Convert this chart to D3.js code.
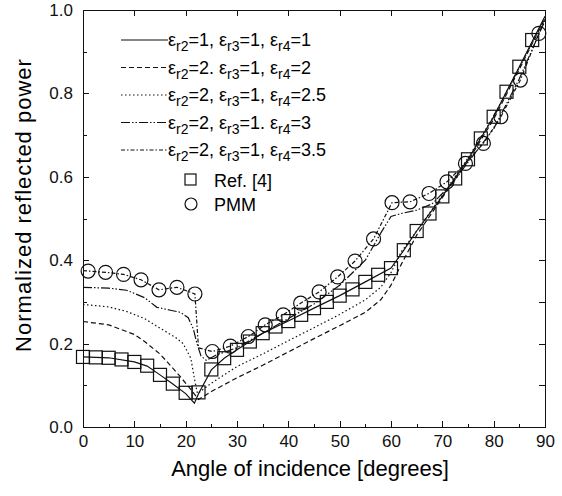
<!DOCTYPE html>
<meta charset="utf-8">
<style>
body { margin: 0; background: #fff; font-family: 'Liberation Sans', Arial, sans-serif; }
.curve { fill: none; stroke: #111; stroke-width: 1.2px; }
.axis path, .axis line { stroke: #111; shape-rendering: crispEdges; }
.axis text { font-size: 17px; fill: #111; }
</style>
<body>
<script src="https://d3js.org/d3.v7.min.js"></script>
<script>

// ---- data ----
// curve 1: er2=1, er3=1, er4=1 (solid)
var angle1 = [0, 5, 10, 12.5, 15, 17.5, 20, 21.7, 22.5, 25, 27.5, 30, 35, 40, 45, 50, 55, 60, 62.5, 65, 70, 75, 80, 85, 90];
var power1 = [0.168, 0.166, 0.156, 0.146, 0.125, 0.103, 0.08, 0.057, 0.08, 0.137, 0.165, 0.185, 0.225, 0.254, 0.285, 0.315, 0.348, 0.381, 0.424, 0.47, 0.553, 0.642, 0.744, 0.864, 0.985];
// curve 2: er4=2 (dashed)
var angle2 = [0, 5, 10, 12, 15, 17, 19, 21, 22.5, 25, 30, 35, 40, 45, 50, 55, 58, 60, 62, 65, 70, 75, 80, 85, 90];
var power2 = [0.253, 0.245, 0.222, 0.205, 0.175, 0.148, 0.12, 0.09, 0.066, 0.085, 0.118, 0.148, 0.18, 0.212, 0.243, 0.275, 0.305, 0.34, 0.39, 0.46, 0.55, 0.638, 0.738, 0.858, 0.98];
// curve 3: er4=2.5 (dotted)
var angle3 = [0, 5, 8.5, 12, 15, 18, 19.5, 21, 21.8, 22.3, 25, 30, 35, 40, 45, 50, 55, 58, 60, 62, 65, 70, 75, 80, 85, 90];
var power3 = [0.294, 0.288, 0.277, 0.26, 0.237, 0.215, 0.2, 0.165, 0.11, 0.08, 0.105, 0.145, 0.175, 0.207, 0.238, 0.27, 0.305, 0.335, 0.37, 0.42, 0.47, 0.556, 0.645, 0.745, 0.862, 0.98];
// curve 4: er4=3 (dash-dot-dot)
var angle4 = [0, 5, 8.5, 12, 14.4, 17, 19, 20.5, 21.5, 22.2, 23, 24, 26, 30, 35, 40, 45, 50, 55, 58, 60, 62, 65, 68, 72, 75, 80, 85, 90];
var power4 = [0.335, 0.333, 0.328, 0.31, 0.287, 0.28, 0.275, 0.262, 0.235, 0.2, 0.17, 0.16, 0.173, 0.19, 0.225, 0.26, 0.295, 0.34, 0.4, 0.465, 0.505, 0.512, 0.52, 0.535, 0.585, 0.635, 0.715, 0.835, 0.975];
// curve 5: er4=3.5 (dash-dot, through the PMM points)
var angle5 = [0, 1, 4.4, 7.9, 11.3, 14.8, 18.3, 21.8, 22.5, 25.2, 28.7, 32.2, 35.5, 39, 42.4, 46, 49.6, 53, 56.6, 60.2, 63.7, 67.4, 70.9, 74.5, 78, 81.4, 85.2, 88.8, 90];
var power5 = [0.375, 0.374, 0.371, 0.366, 0.353, 0.329, 0.335, 0.319, 0.19, 0.181, 0.194, 0.217, 0.245, 0.269, 0.297, 0.324, 0.36, 0.398, 0.451, 0.538, 0.54, 0.56, 0.588, 0.632, 0.68, 0.744, 0.832, 0.944, 0.975];

// Ref. [4] squares
var refAngle = [0, 2.5, 5, 7.5, 10, 12.5, 15, 17.5, 20, 22.5, 25, 27.5, 30, 32.5, 35, 37.5, 40, 42.5, 45, 47.5, 50, 52.5, 55, 57.5, 60, 62.5, 65, 67.5, 70, 72.5, 75, 77.5, 80, 82.5, 85, 87.5];
var refPower = [0.168, 0.167, 0.166, 0.162, 0.156, 0.147, 0.125, 0.104, 0.082, 0.083, 0.138, 0.165, 0.185, 0.205, 0.225, 0.241, 0.254, 0.269, 0.285, 0.3, 0.315, 0.33, 0.348, 0.365, 0.381, 0.424, 0.47, 0.512, 0.553, 0.596, 0.642, 0.692, 0.744, 0.804, 0.864, 0.928];

// PMM circles
var pmmAngle = [1, 4.4, 7.9, 11.3, 14.8, 18.3, 21.8, 25.2, 28.7, 32.2, 35.5, 39, 42.4, 46, 49.6, 53, 56.6, 60.2, 63.7, 67.4, 70.9, 74.5, 78, 81.4, 85.2, 88.8];
var pmmPower = [0.374, 0.371, 0.366, 0.353, 0.329, 0.335, 0.319, 0.181, 0.194, 0.217, 0.245, 0.269, 0.297, 0.324, 0.36, 0.398, 0.451, 0.538, 0.54, 0.56, 0.588, 0.632, 0.68, 0.744, 0.832, 0.944];

var legendLabels = [
  ["1, ", "1, ", "1"],
  ["2. ", "1, ", "2"],
  ["2, ", "1, ", "2.5"],
  ["2, ", "1. ", "3"],
  ["2, ", "1, ", "3.5"]
];
var dashes = [null, "5,3", "1.5,2.5", "9,2,1.5,2,1.5,2", "4,2,1.5,2"];

var xTicks = [0, 10, 20, 30, 40, 50, 60, 70, 80, 90];
var yTicks = [0, 0.2, 0.4, 0.6, 0.8, 1.0];

// ---- layout ----
var margin = {top: 10, right: 17, bottom: 69, left: 83},
    width = 562 - margin.left - margin.right,
    height = 496 - margin.top - margin.bottom;

var x = d3.scaleLinear().domain([0, 90]).range([0, width]);
var y = d3.scaleLinear().domain([0, 1]).range([height, 0]);

var svg = d3.select("body").append("svg")
    .attr("width", 562)
    .attr("height", 496)
  .append("g")
    .attr("transform", "translate(" + margin.left + "," + margin.top + ")");

// curves
var curves = [[angle1, power1], [angle2, power2], [angle3, power3], [angle4, power4], [angle5, power5]];
var line = d3.line()
    .x(function(d) { return x(d[0]); })
    .y(function(d) { return y(d[1]); });

curves.forEach(function(c, i) {
  svg.append("path")
      .datum(d3.zip(c[0], c[1]))
      .attr("class", "curve")
      .attr("stroke-dasharray", dashes[i])
      .attr("d", line);
});

// markers
svg.selectAll(".sq")
    .data(d3.zip(refAngle, refPower))
  .enter().append("rect")
    .attr("x", function(d) { return x(d[0]) - 6.5; })
    .attr("y", function(d) { return y(d[1]) - 6.5; })
    .attr("width", 13)
    .attr("height", 13)
    .attr("fill", "none")
    .attr("stroke", "#111")
    .attr("stroke-width", 1.2);

svg.selectAll(".ci")
    .data(d3.zip(pmmAngle, pmmPower))
  .enter().append("circle")
    .attr("cx", function(d) { return x(d[0]); })
    .attr("cy", function(d) { return y(d[1]); })
    .attr("r", 7)
    .attr("fill", "none")
    .attr("stroke", "#111")
    .attr("stroke-width", 1.2);

// axes, ticks inward on all four sides
svg.append("g").attr("class", "axis")
    .attr("transform", "translate(0," + height + ")")
    .call(d3.axisBottom(x).tickValues(xTicks).tickSize(-6).tickPadding(8));
svg.append("g").attr("class", "axis")
    .attr("transform", "translate(0," + height + ")")
    .call(d3.axisBottom(x).tickValues(d3.range(5, 90, 10)).tickSize(-3).tickFormat(""));
svg.append("g").attr("class", "axis")
    .call(d3.axisTop(x).tickValues(xTicks).tickSize(-6).tickFormat(""));
svg.append("g").attr("class", "axis")
    .call(d3.axisLeft(y).tickValues(yTicks).tickSize(-6).tickPadding(10).tickFormat(d3.format(".1f")));
svg.append("g").attr("class", "axis")
    .call(d3.axisLeft(y).tickValues([0.1, 0.3, 0.5, 0.7, 0.9]).tickSize(-4).tickFormat(""));
svg.append("g").attr("class", "axis")
    .attr("transform", "translate(" + width + ",0)")
    .call(d3.axisRight(y).tickValues(d3.range(0, 1.01, 0.1)).tickSize(-6).tickFormat(""));

svg.selectAll(".axis path").attr("stroke-width", 1.3);

// axis titles
svg.append("text")
    .attr("x", width / 2 - 4)
    .attr("y", height + 49)
    .attr("text-anchor", "middle")
    .style("font-size", "22px")
    .text("Angle of incidence [degrees]");

svg.append("text")
    .attr("transform", "rotate(-90)")
    .attr("x", -195)
    .attr("y", -52)
    .attr("text-anchor", "middle")
    .style("font-size", "22px")
    .style("letter-spacing", "1px")
    .text("Normalized reflected  power");

// legend
var leg = svg.append("g").attr("transform", "translate(38,30)");
legendLabels.forEach(function(l, i) {
  var g = leg.append("g").attr("transform", "translate(0," + (i * 27.5) + ")");
  g.append("line")
      .attr("class", "curve")
      .attr("x1", 0).attr("x2", 47)
      .attr("stroke-dasharray", dashes[i]);
  var t = g.append("text").attr("x", 47).attr("y", 6).style("font-size", "18px");
  ["r2", "r3", "r4"].forEach(function(s, k) {
    t.append("tspan").text("\u03b5");
    t.append("tspan").attr("dy", 5).style("font-size", "14px").text(s);
    t.append("tspan").attr("dy", -5).text("=" + l[k]);
  });
});

var refRow = leg.append("g").attr("transform", "translate(0," + (5 * 27.5 + 2) + ")");
refRow.append("rect")
    .attr("x", 64).attr("y", -5.5).attr("width", 11).attr("height", 11)
    .attr("fill", "none").attr("stroke", "#111").attr("stroke-width", 1.2);
refRow.append("text").attr("x", 93).attr("y", 7).style("font-size", "18px").text("Ref. [4]");

var pmmRow = leg.append("g").attr("transform", "translate(0," + (6 * 27.5 - 1) + ")");
pmmRow.append("circle")
    .attr("cx", 70).attr("cy", 0).attr("r", 6)
    .attr("fill", "none").attr("stroke", "#111").attr("stroke-width", 1.2);
pmmRow.append("text").attr("x", 93).attr("y", 7).style("font-size", "18px").text("PMM");

</script>
</body>
